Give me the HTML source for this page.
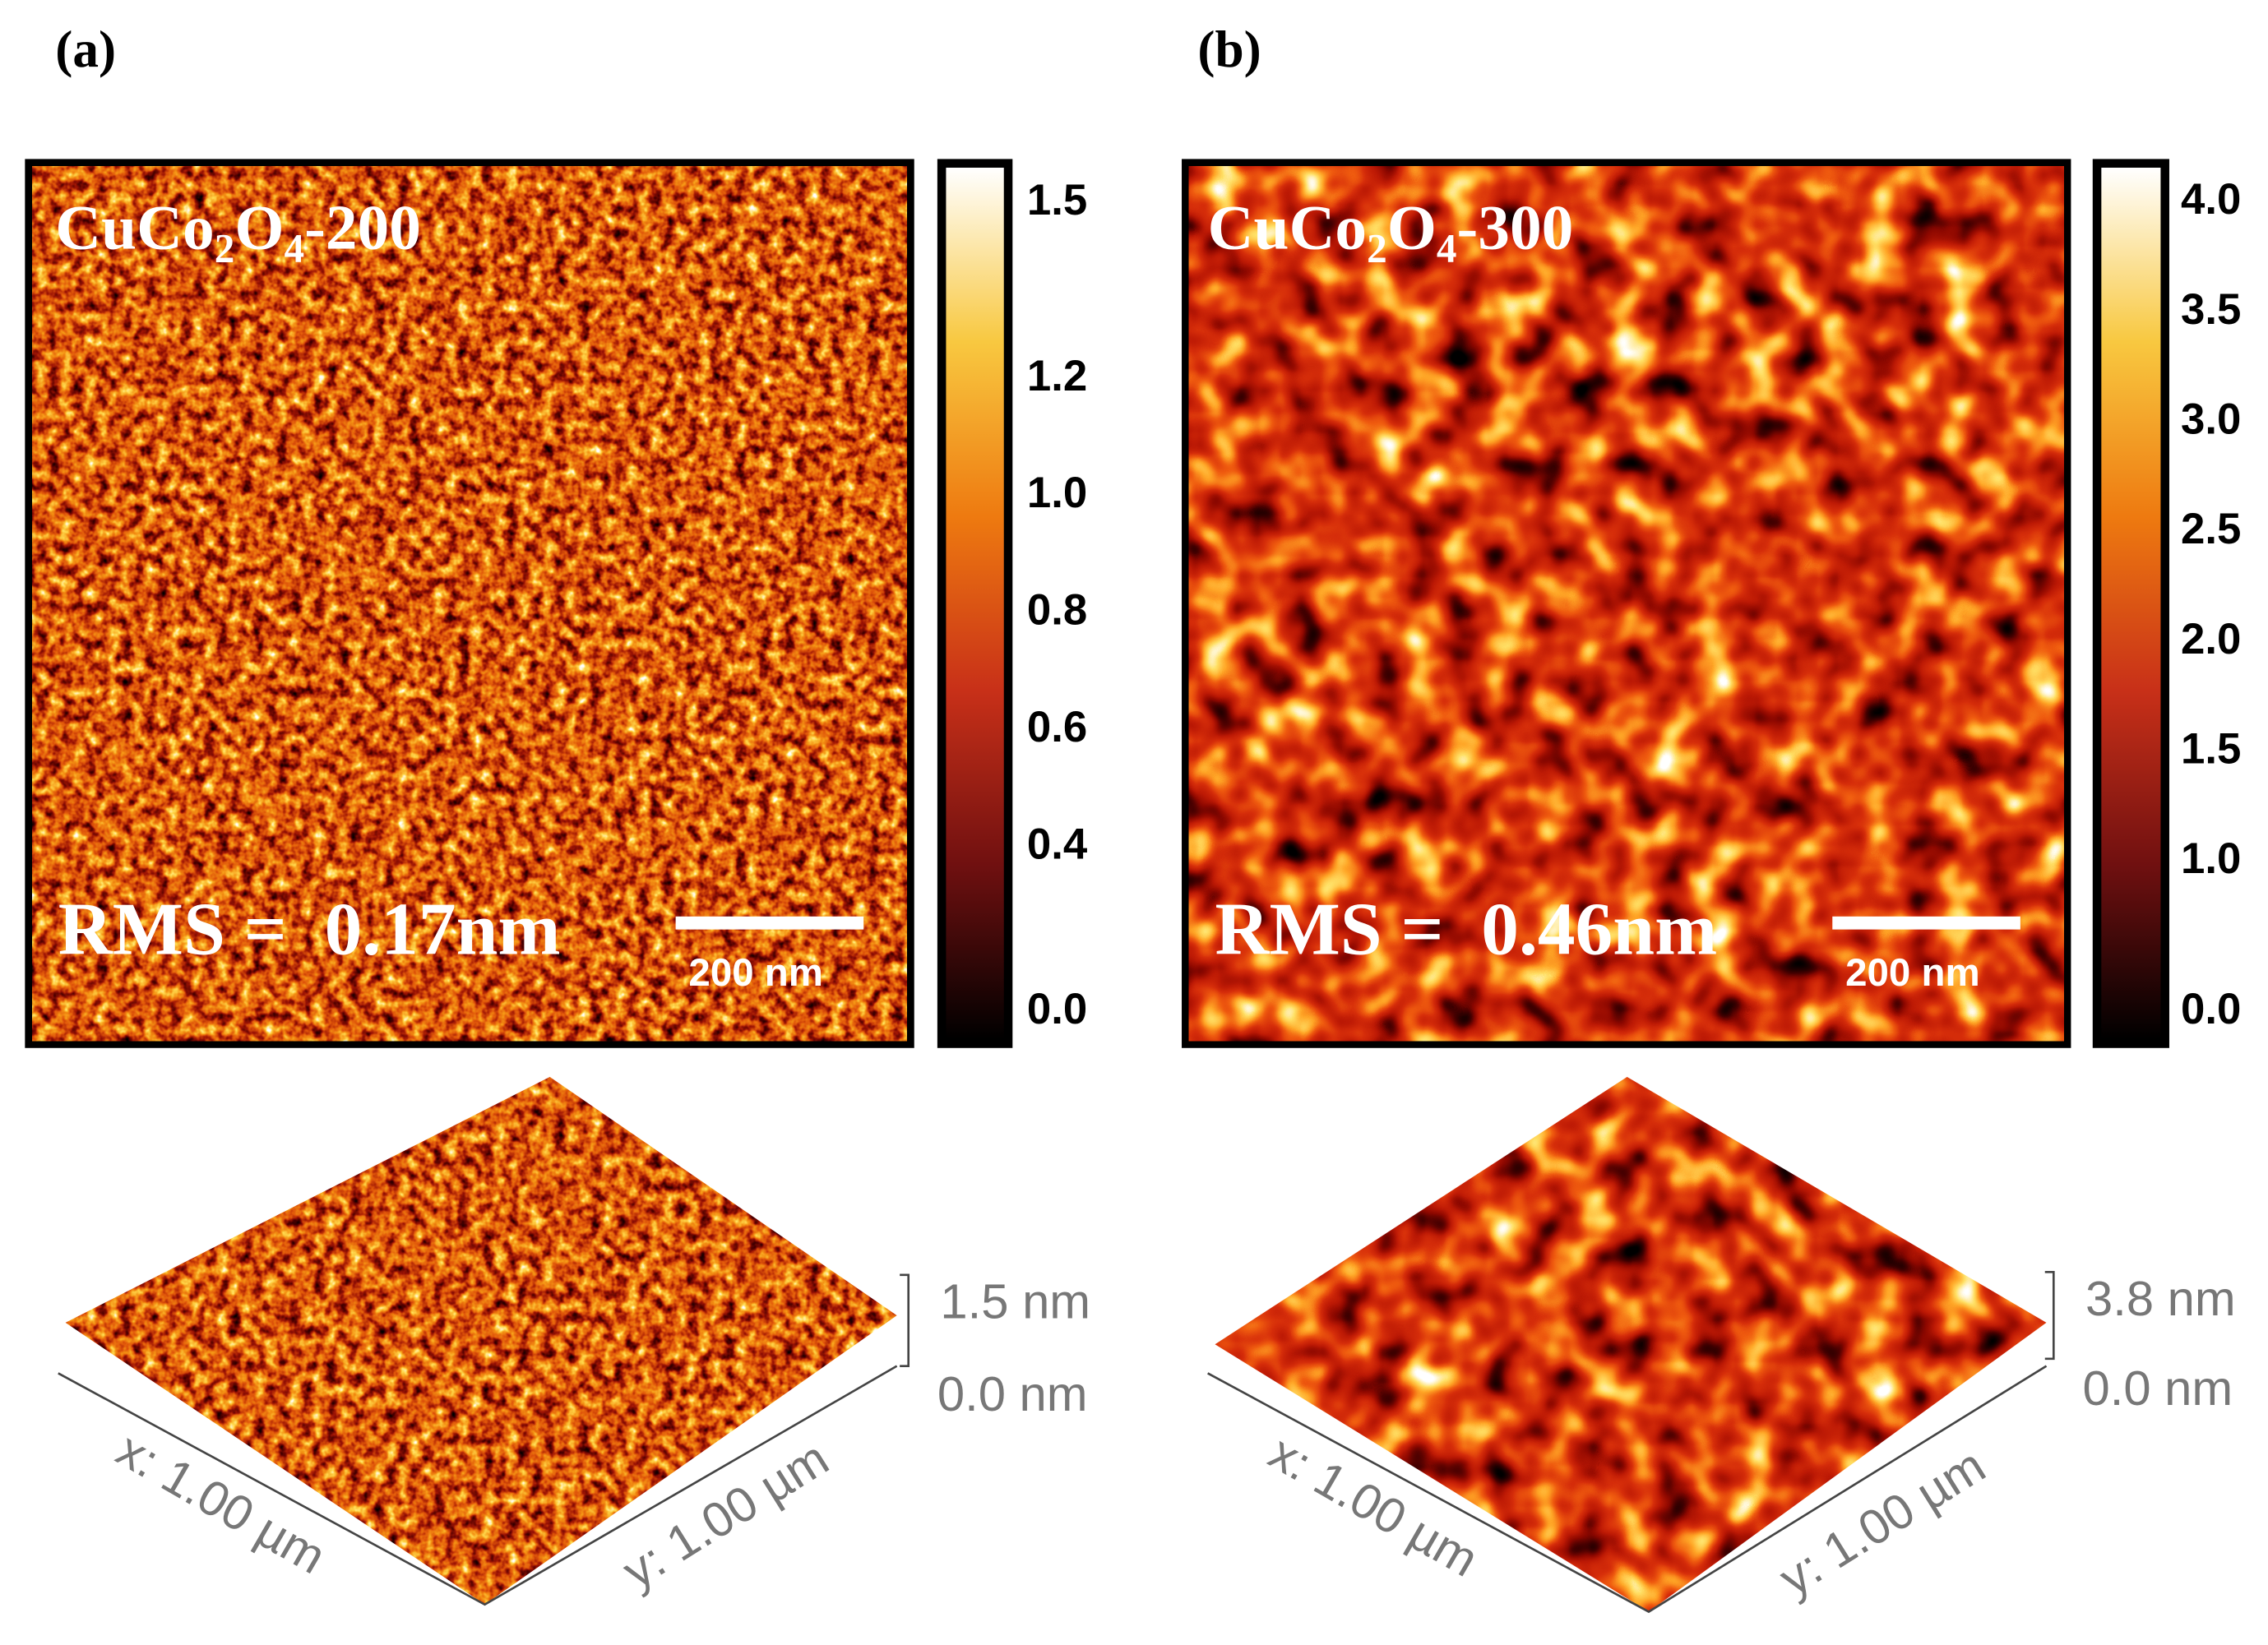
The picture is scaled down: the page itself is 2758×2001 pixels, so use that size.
<!DOCTYPE html>
<html><head><meta charset="utf-8"><style>
html,body{margin:0;padding:0;background:#fff;}
svg{display:block;}
text{font-family:"Liberation Serif",serif;}
filter{color-interpolation-filters:sRGB;}
</style></head><body>
<svg width="2758" height="2001" viewBox="0 0 1568 1138" xmlns="http://www.w3.org/2000/svg">
<defs>
 <filter id="fa" x="0" y="0" width="100%" height="100%" color-interpolation-filters="sRGB">
  <feTurbulence type="fractalNoise" baseFrequency="0.12" numOctaves="3" seed="3"/>
  <feColorMatrix type="matrix" values="1.25 0 0 0 -0.12 1.25 0 0 0 -0.12 1.25 0 0 0 -0.12 0 0 0 0 1"/>
  <feComponentTransfer>
   <feFuncR type="table" tableValues="0 0.3 0.62 0.88 0.96 1 1"/>
   <feFuncG type="table" tableValues="0 0 0.08 0.34 0.58 0.85 1"/>
   <feFuncB type="table" tableValues="0 0 0.02 0.04 0.08 0.3 1"/>
  </feComponentTransfer>
 </filter>
 <filter id="fb" x="0" y="0" width="100%" height="100%" color-interpolation-filters="sRGB">
  <feTurbulence type="fractalNoise" baseFrequency="0.035" numOctaves="2" seed="7"/>
  <feColorMatrix type="matrix" values="1.45 0 0 0 -0.22 1.45 0 0 0 -0.22 1.45 0 0 0 -0.22 0 0 0 0 1"/>
  <feComponentTransfer>
   <feFuncR type="table" tableValues="0 0.25 0.55 0.74 0.84 0.94 1 1 1"/>
   <feFuncG type="table" tableValues="0 0 0.03 0.1 0.18 0.36 0.65 0.88 1"/>
   <feFuncB type="table" tableValues="0 0 0 0.02 0.04 0.06 0.15 0.4 1"/>
  </feComponentTransfer>
 </filter>
 <linearGradient id="cb" x1="0" y1="0" x2="0" y2="1">
  <stop offset="0" stop-color="#ffffff"/>
  <stop offset="0.2" stop-color="#f8c840"/>
  <stop offset="0.4" stop-color="#ee7a10"/>
  <stop offset="0.6" stop-color="#c83018"/>
  <stop offset="0.8" stop-color="#701010"/>
  <stop offset="1" stop-color="#000000"/>
 </linearGradient>
 <clipPath id="ca"><polygon points="380,745 45,915 335,1110 620,910"/></clipPath>
 <clipPath id="cbp"><polygon points="1125,745 840,930 1140,1115 1415,915"/></clipPath>
</defs>

<text x="38" y="46" font-size="36" font-weight="bold">(a)</text>
<text x="828" y="46" font-size="36" font-weight="bold">(b)</text>

<g>
 <rect x="17" y="110" width="615" height="615" fill="#000"/>
 <rect x="22" y="115" width="605" height="605" filter="url(#fa)"/>
 <text x="38" y="172" font-size="44" font-weight="bold" fill="#fff">CuCo<tspan font-size="28" dy="9">2</tspan><tspan dy="-9">O</tspan><tspan font-size="28" dy="9">4</tspan><tspan dy="-9">-200</tspan></text>
 <text x="40" y="660" font-size="52" font-weight="bold" fill="#fff">RMS =&#160; 0.17nm</text>
 <rect x="467" y="634" width="130" height="9" fill="#fff"/>
 <text x="476" y="682" font-size="27" font-weight="bold" fill="#fff" style="font-family:'Liberation Sans',sans-serif">200 nm</text>
</g>
<g>
 <rect x="648" y="110" width="52" height="615" fill="#000"/>
 <rect x="654" y="116" width="40" height="603" fill="url(#cb)"/>
</g>
<g id="ticksA"></g>

<g>
 <rect x="817" y="110" width="615" height="615" fill="#000"/>
 <rect x="822" y="115" width="605" height="605" filter="url(#fb)"/>
 <text x="835" y="172" font-size="44" font-weight="bold" fill="#fff">CuCo<tspan font-size="28" dy="9">2</tspan><tspan dy="-9">O</tspan><tspan font-size="28" dy="9">4</tspan><tspan dy="-9">-300</tspan></text>
 <text x="840" y="660" font-size="52" font-weight="bold" fill="#fff">RMS =&#160; 0.46nm</text>
 <rect x="1267" y="634" width="130" height="9" fill="#fff"/>
 <text x="1276" y="682" font-size="27" font-weight="bold" fill="#fff" style="font-family:'Liberation Sans',sans-serif">200 nm</text>
</g>
<g>
 <rect x="1447" y="110" width="53" height="615" fill="#000"/>
 <rect x="1453" y="116" width="41" height="603" fill="url(#cb)"/>
</g>
<g id="ticksB"></g>

<g>
 <g clip-path="url(#ca)"><rect x="40" y="740" width="585" height="375" filter="url(#fa)"/></g>
 <polyline points="40,950 335,1110 620,945" fill="none" stroke="#444" stroke-width="1.5"/>
 <polyline points="622,882 628,882 628,945 622,945" fill="none" stroke="#444" stroke-width="1.5"/>
 <text x="650" y="912" font-size="34" fill="#777" style="font-family:'Liberation Sans',sans-serif">1.5 nm</text>
 <text x="648" y="976" font-size="34" fill="#777" style="font-family:'Liberation Sans',sans-serif">0.0 nm</text>
 <text transform="translate(78,1010) rotate(30)" font-size="34" fill="#777" style="font-family:'Liberation Sans',sans-serif">x: 1.00 µm</text>
 <text transform="translate(440,1100) rotate(-32)" font-size="34" fill="#777" style="font-family:'Liberation Sans',sans-serif">y: 1.00 µm</text>
</g>
<g>
 <g clip-path="url(#cbp)"><rect x="835" y="740" width="585" height="380" filter="url(#fb)"/></g>
 <polyline points="835,950 1140,1115 1415,945" fill="none" stroke="#444" stroke-width="1.5"/>
 <polyline points="1414,880 1420,880 1420,940 1414,940" fill="none" stroke="#444" stroke-width="1.5"/>
 <text x="1442" y="910" font-size="34" fill="#777" style="font-family:'Liberation Sans',sans-serif">3.8 nm</text>
 <text x="1440" y="972" font-size="34" fill="#777" style="font-family:'Liberation Sans',sans-serif">0.0 nm</text>
 <text transform="translate(875,1012) rotate(30)" font-size="34" fill="#777" style="font-family:'Liberation Sans',sans-serif">x: 1.00 µm</text>
 <text transform="translate(1240,1105) rotate(-32)" font-size="34" fill="#777" style="font-family:'Liberation Sans',sans-serif">y: 1.00 µm</text>
</g>
</svg>
<script>
const ticksAValues=[1.5,1.2,1.0,0.8,0.6,0.4,0.0];
const ticksALabels=["1.5","1.2","1.0","0.8","0.6","0.4","0.0"];
const ticksBValues=[4.0,3.5,3.0,2.5,2.0,1.5,1.0,0.0];
const ticksBLabels=["4.0","3.5","3.0","2.5","2.0","1.5","1.0","0.0"];
const NS="http://www.w3.org/2000/svg";
function drawTicks(gid,vals,labs,x,yTop,yBot,vTop,vBot,yMax){
 const g=document.getElementById(gid);
 vals.forEach((v,i)=>{
  const t=document.createElementNS(NS,"text");
  
  
  let y=yBot+(v-vBot)/(vTop-vBot)*(yTop-yBot);
  if(y>yMax) y=yMax;
  t.setAttribute("x",x);t.setAttribute("y",y+11);
  t.setAttribute("font-size","30");t.setAttribute("font-weight","bold");
  t.setAttribute("style","font-family:'Liberation Sans',sans-serif");
  t.textContent=labs[i];g.appendChild(t);
 });
}
drawTicks("ticksA",ticksAValues,ticksALabels,710,340,583,1.0,0.4,697);
drawTicks("ticksB",ticksBValues,ticksBLabels,1508,137,593,4.0,1.0,697);
</script>
</body></html>
